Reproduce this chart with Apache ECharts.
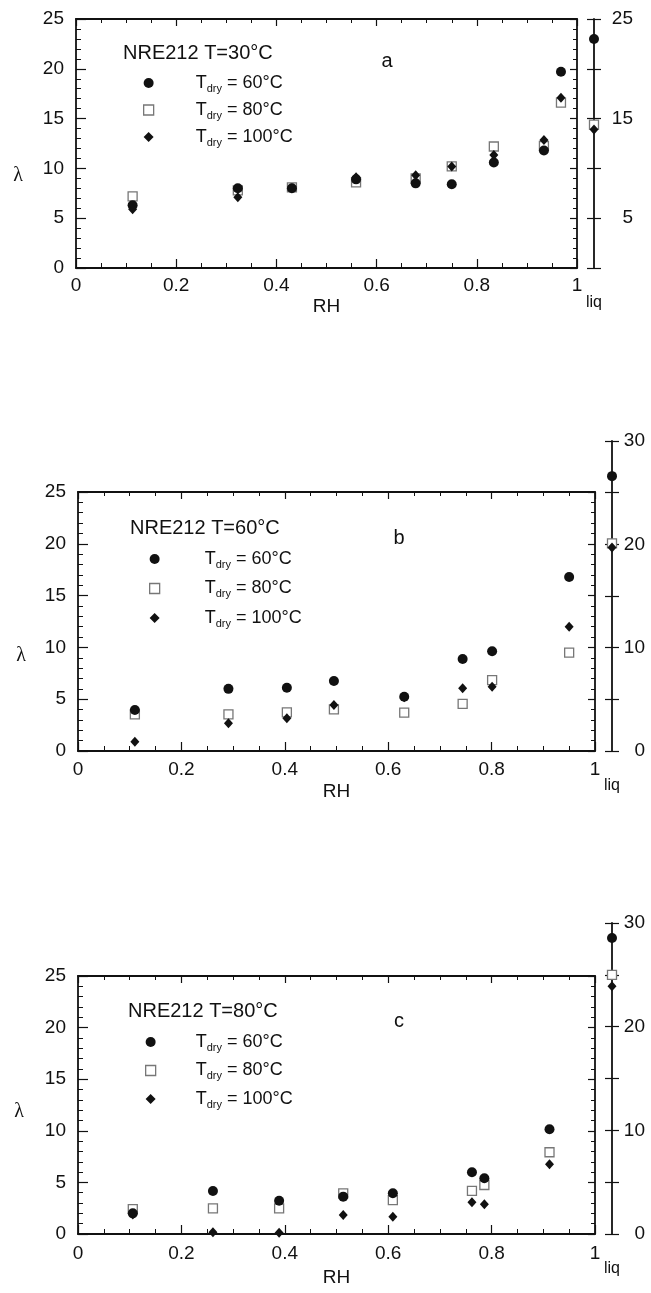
<!DOCTYPE html>
<html><head><meta charset="utf-8">
<script src="https://cdn.jsdelivr.net/npm/echarts@6/dist/echarts.min.js"></script>
<style>html,body{margin:0;padding:0;background:#fff}#c{width:651px;height:1293px}</style>
</head><body><div id="c"></div>
<script>
// ---------- data ----------
const dryLabels = ['60°C', '80°C', '100°C'];
const panelTitles = ['NRE212 T=30°C', 'NRE212 T=60°C', 'NRE212 T=80°C'];
const panelLetters = ['a', 'b', 'c'];

// panel a : T = 30 °C
const aRH   = [0.113, 0.323, 0.431, 0.559, 0.678, 0.750, 0.834, 0.934, 0.968];
const aT60  = [6.3, 8.0, 8.0, 8.9, 8.5, 8.4, 10.6, 11.8, 19.7];
const aT80  = [7.2, 7.8, 8.1, 8.6, 9.0, 10.2, 12.2, 12.25, 16.6];
const aT100 = [5.9, 7.1, 8.0, 9.1, 9.3, 10.2, 11.35, 12.85, 17.1];
const aLiq  = [23.0, 14.4, 13.9];   // T_dry 60, 80, 100

// panel b : T = 60 °C
const bRH   = [0.110, 0.291, 0.404, 0.495, 0.631, 0.744, 0.801, 0.950];
const bT60  = [3.96, 6.0, 6.1, 6.76, 5.24, 8.88, 9.62, 16.8];
const bT80  = [3.54, 3.54, 3.73, 4.02, 3.70, 4.54, 6.85, 9.5];
const bT100 = [0.9, 2.67, 3.15, 4.44, 5.2, 6.05, 6.2, 12.0];
const bLiq  = [26.6, 20.1, 19.7];

// panel c : T = 80 °C
const cRH   = [0.106, 0.261, 0.389, 0.513, 0.609, 0.762, 0.786, 0.912];
const cT60  = [2.0, 4.17, 3.23, 3.62, 3.94, 5.98, 5.40, 10.15];
const cT80  = [2.42, 2.49, 2.49, 3.94, 3.29, 4.17, 4.75, 7.92];
const cT100 = [1.9, 0.16, 0.13, 1.84, 1.68, 3.07, 2.88, 6.75];
const cLiq  = [28.56, 25.0, 23.9];

const liqCategory = ['liq', ''];

// ---------- layout ----------
const FONT = '"Liberation Sans", Arial, sans-serif';
const INK = '#111';
const panels = [
  { rh: aRH, vals: [aT60, aT80, aT100], liq: aLiq, liqMax: 25, liqLab: v => (v / 5) % 2 === 1 ? String(v) : '',
    grid: {left: 76, top: 19, width: 501, height: 249}, liqGrid: {left: 594, top: 19, width: 30, height: 249},
    liqLabMargin: 39, leg: {cx: 148, cy: 85, gap: 7, sp: 37}, title: [123, 53], letter: [387, 61], lam: [18, 176],
    xLabMargin: 8, nameGap: 29, liqMargin: 27 },
  { rh: bRH, vals: [bT60, bT80, bT100], liq: bLiq, liqMax: 30, liqLab: v => v % 10 === 0 ? String(v) : '',
    grid: {left: 78, top: 492, width: 517, height: 259}, liqGrid: {left: 612, top: 441, width: 30, height: 310},
    liqLabMargin: 33, leg: {cx: 154, cy: 561, gap: 9.5, sp: 40}, title: [130, 528], letter: [399, 538], lam: [21, 656],
    xLabMargin: 9, nameGap: 31, liqMargin: 27 },
  { rh: cRH, vals: [cT60, cT80, cT100], liq: cLiq, liqMax: 30, liqLab: v => v % 10 === 0 ? String(v) : '',
    grid: {left: 78, top: 976, width: 517, height: 258}, liqGrid: {left: 612, top: 923, width: 30, height: 311},
    liqLabMargin: 33, leg: {cx: 150, cy: 1044, gap: 8.5, sp: 35}, title: [128, 1011], letter: [399, 1021], lam: [19, 1112],
    xLabMargin: 10, nameGap: 34, liqMargin: 27 }
];

const styles = [
  { symbol: 'circle', symbolSize: 10, itemStyle: {color: INK, opacity: 1} },
  { symbol: 'rect', symbolSize: 9, itemStyle: {color: '#fff', borderColor: '#777', borderWidth: 1.3, opacity: 1} },
  { symbol: 'diamond', symbolSize: [9, 10], itemStyle: {color: INK, opacity: 1} }
];
const drawOrder = [1, 0, 2]; // squares beneath

const axisLine = {show: true, onZero: false, lineStyle: {color: INK, width: 1.8}};
const tickLine = {color: INK, width: 1.2};
const minorLine = {color: INK, width: 1};
const grids = [], xAxes = [], yAxes = [], series = [], legends = [], graphics = [];

panels.forEach((p, pi) => {
  grids.push(Object.assign({containLabel: false}, p.grid));
  grids.push(Object.assign({containLabel: false}, p.liqGrid));
  const gMain = 2 * pi, gLiq = 2 * pi + 1;
  const xBase = xAxes.length, yBase = yAxes.length;
  // main x bottom
  xAxes.push({ gridIndex: gMain, type: 'value', min: 0, max: 1, interval: 0.2, position: 'bottom',
    axisLine, splitLine: {show: false},
    axisTick: {inside: true, length: 9, lineStyle: tickLine},
    minorTick: {show: true, splitNumber: 4, length: 5, lineStyle: minorLine},
    axisLabel: {margin: p.xLabMargin, fontSize: 19, color: INK, fontFamily: FONT},
    name: 'RH', nameLocation: 'middle', nameGap: p.nameGap,
    nameTextStyle: {fontSize: 19, color: INK, fontFamily: FONT} });
  // main x top
  xAxes.push({ gridIndex: gMain, type: 'value', min: 0, max: 1, interval: 0.2, position: 'top',
    axisLine, splitLine: {show: false}, axisLabel: {show: false},
    axisTick: {inside: true, length: 7, lineStyle: tickLine},
    minorTick: {show: true, splitNumber: 4, length: 4, lineStyle: minorLine} });
  // liq x
  xAxes.push({ gridIndex: gLiq, type: 'category', data: liqCategory, boundaryGap: false,
    axisLine: {show: false, onZero: false}, axisTick: {show: false}, splitLine: {show: false},
    axisLabel: {interval: 0, margin: p.liqMargin, fontSize: 16, color: INK, fontFamily: FONT} });
  // main y left
  yAxes.push({ gridIndex: gMain, type: 'value', min: 0, max: 25, interval: 5, position: 'left',
    axisLine, splitLine: {show: false},
    axisTick: {inside: true, length: 10, lineStyle: tickLine},
    minorTick: {show: true, splitNumber: 5, length: 5, lineStyle: minorLine},
    axisLabel: {margin: 12, fontSize: 19, color: INK, fontFamily: FONT} });
  // main y right
  yAxes.push({ gridIndex: gMain, type: 'value', min: 0, max: 25, interval: 5, position: 'right',
    axisLine, splitLine: {show: false}, axisLabel: {show: false},
    axisTick: {inside: true, length: 7, lineStyle: tickLine},
    minorTick: {show: true, splitNumber: 5, length: 4, lineStyle: minorLine} });
  // liq y (ticks outward)
  yAxes.push({ gridIndex: gLiq, type: 'value', min: 0, max: p.liqMax, interval: 5, position: 'left',
    axisLine, splitLine: {show: false}, axisLabel: {show: false},
    axisTick: {show: true, inside: false, length: 7, lineStyle: tickLine} });
  // liq y (ticks inward + labels)
  yAxes.push({ gridIndex: gLiq, type: 'value', min: 0, max: p.liqMax, interval: 5, position: 'left',
    axisLine: {show: false, onZero: false}, splitLine: {show: false},
    axisTick: {show: true, inside: true, length: 7, lineStyle: tickLine},
    axisLabel: {inside: true, align: 'right', margin: p.liqLabMargin, fontSize: 19, color: INK, fontFamily: FONT,
      formatter: p.liqLab} });

  drawOrder.forEach(k => {
    series.push(Object.assign({ type: 'scatter', name: 'p' + pi + '_' + k,
      xAxisIndex: xBase, yAxisIndex: yBase,
      data: p.rh.map((x, i) => [x, p.vals[k][i]]) }, styles[k]));
  });
  drawOrder.forEach(k => {
    series.push(Object.assign({ type: 'scatter', name: 'liq' + pi + '_' + k,
      xAxisIndex: xBase + 2, yAxisIndex: yBase + 2,
      data: [[liqCategory[0], p.liq[k]]], z: 4 }, styles[k]));
  });

  legends.push({
    orient: 'vertical', left: p.leg.cx - 5, top: p.leg.cy - 11, itemWidth: 10, itemHeight: 10,
    itemGap: p.leg.gap, selectedMode: false, padding: 0,
    data: [0, 1, 2].map(k => ({ name: 'p' + pi + '_' + k, itemStyle: styles[k].itemStyle })),
    formatter: name => {
      const k = +name.split('_')[1];
      return '{g| }{t|T}{s|dry}{t| = ' + dryLabels[k] + '}';
    },
    textStyle: { color: INK, fontFamily: FONT, fontSize: 18,
      rich: {
        g: {width: p.leg.sp, fontSize: 18, lineHeight: 22},
        t: {fontSize: 18, lineHeight: 22, color: INK, fontFamily: FONT, verticalAlign: 'middle'},
        s: {fontSize: 11, lineHeight: 11, color: INK, fontFamily: FONT, verticalAlign: 'bottom'}
      } }
  });

  graphics.push({ type: 'text', x: p.title[0], y: p.title[1],
    style: {text: panelTitles[pi], font: '20px ' + FONT, fill: INK, textVerticalAlign: 'middle'} });
  graphics.push({ type: 'text', x: p.letter[0], y: p.letter[1],
    style: {text: panelLetters[pi], font: '20px ' + FONT, fill: INK, textAlign: 'center', textVerticalAlign: 'middle'} });
  graphics.push({ type: 'text', x: p.lam[0], y: p.lam[1],
    style: {text: 'λ', font: '20px "Liberation Serif", "Times New Roman", serif', fill: INK, textAlign: 'center', textVerticalAlign: 'middle'} });
});

const chart = echarts.init(document.getElementById('c'), null, {renderer: 'canvas'});
chart.setOption({
  backgroundColor: '#fff',
  animation: false,
  grid: grids, xAxis: xAxes, yAxis: yAxes, series, legend: legends, graphic: graphics
});
</script></body></html>
